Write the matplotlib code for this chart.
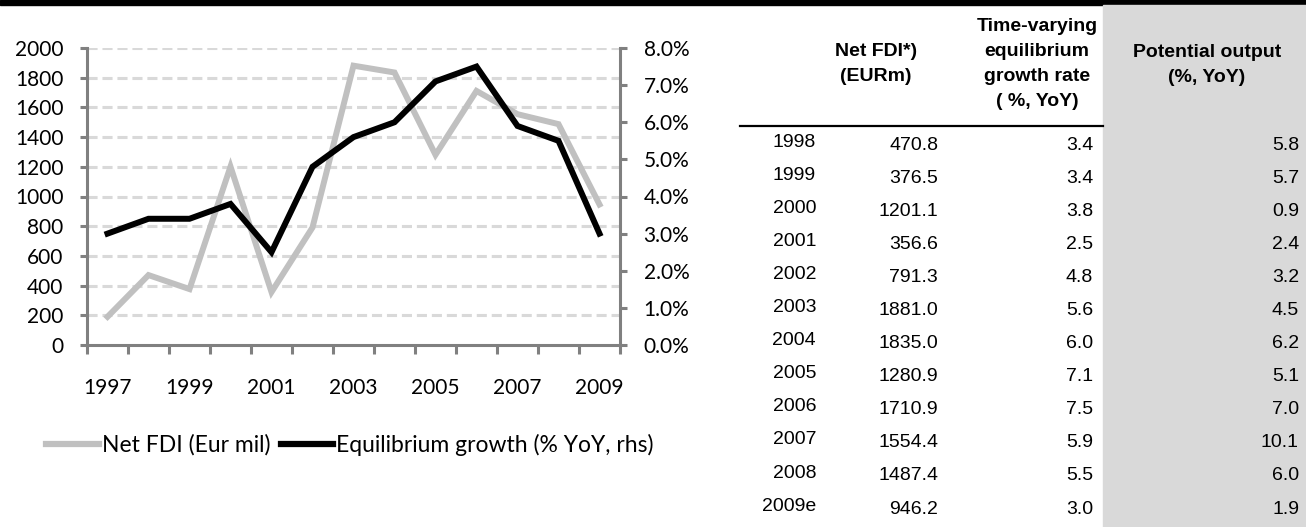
import matplotlib.pyplot as plt
from matplotlib import font_manager
from matplotlib.patches import Rectangle
from matplotlib.lines import Line2D
from matplotlib.ticker import FuncFormatter, MultipleLocator

years = list(range(1997, 2010))
net_fdi = [190, 470.8, 376.5, 1201.1, 356.6, 791.3, 1881.0, 1835.0, 1280.9, 1710.9, 1554.4, 1487.4, 946.2]
eq_growth = [3.0, 3.4, 3.4, 3.8, 2.5, 4.8, 5.6, 6.0, 7.1, 7.5, 5.9, 5.5, 3.0]

table_years = ["1998", "1999", "2000", "2001", "2002", "2003", "2004", "2005", "2006", "2007", "2008", "2009e"]
table_fdi = ["470.8", "376.5", "1201.1", "356.6", "791.3", "1881.0", "1835.0", "1280.9", "1710.9", "1554.4", "1487.4", "946.2"]
table_growth = ["3.4", "3.4", "3.8", "2.5", "4.8", "5.6", "6.0", "7.1", "7.5", "5.9", "5.5", "3.0"]
table_potential = ["5.8", "5.7", "0.9", "2.4", "3.2", "4.5", "6.2", "5.1", "7.0", "10.1", "6.0", "1.9"]

names = set(f.name for f in font_manager.fontManager.ttflist)
narrow = "Liberation Sans Narrow" if "Liberation Sans Narrow" in names else "Liberation Sans"
chart_font = "Lato"

W, H = 1306, 527
fig = plt.figure(figsize=(W / 100, H / 100), dpi=100)

def fx(px):
    return px / W

def fy(py):
    return 1 - py / H

# top black bar
fig.patches.append(Rectangle((0, fy(5)), 1, 5 / H, transform=fig.transFigure, color="black", zorder=0))
# gray shaded column
fig.patches.append(Rectangle((fx(1103), 0), fx(W - 1103), fy(5), transform=fig.transFigure,
                             color="#d9d9d9", zorder=0))
# header rule
fig.lines.append(Line2D([fx(740), fx(1103)], [fy(126), fy(126)], transform=fig.transFigure,
                        color="black", lw=1.6))

grid_c = "#d9d9d9"
axis_c = "#808080"

ax = fig.add_axes([fx(87), fy(345), fx(620 - 87), (345 - 48) / H])
ax2 = ax.twinx()

x = list(range(len(years)))
for v in range(200, 2001, 200):
    ax.axhline(v, color=grid_c, lw=2.2, ls=(0, (3.3, 1.6)), zorder=1)
ax.plot(x, net_fdi, color="#c0c0c0", lw=4.3, solid_joinstyle="miter", zorder=3)
ax2.plot(x, eq_growth, color="black", lw=4.3, solid_joinstyle="miter", zorder=3)

ax.set_xlim(-0.5, len(years) - 0.5)
ax.set_ylim(0, 2000)
ax2.set_ylim(0, 8)
ax.yaxis.set_major_locator(MultipleLocator(200))
ax2.yaxis.set_major_locator(MultipleLocator(1))
ax2.yaxis.set_major_formatter(FuncFormatter(lambda v, p: f"{v:.1f}%"))

ax.set_xticks([i - 0.5 for i in range(len(years) + 1)])
ax.set_xticklabels([])
ax.set_xticks(x[::2], minor=True)
ax.set_xticklabels([str(y) for y in years[::2]], minor=True)
ax.tick_params(axis="x", which="minor", length=0, pad=24, labelsize=15)
ax.tick_params(axis="x", which="major", length=6.5, width=2.2, color=axis_c, direction="out")

for a in (ax, ax2):
    for s in a.spines.values():
        s.set_visible(False)
    a.tick_params(axis="y", length=5, width=2.2, color=axis_c, labelsize=15, pad=12)
    a.set_zorder(2)
ax.spines["left"].set_visible(True)
ax.spines["bottom"].set_visible(True)
ax2.spines["right"].set_visible(True)
for s in (ax.spines["left"], ax.spines["bottom"], ax2.spines["right"]):
    s.set_color(axis_c)
    s.set_linewidth(2.2)
ax.patch.set_visible(False)
ax2.patch.set_visible(False)

for lab in ax.get_xticklabels(minor=True) + ax.get_yticklabels() + ax2.get_yticklabels():
    lab.set_fontfamily(chart_font)

handles = [Line2D([], [], color="#c0c0c0", lw=4.5), Line2D([], [], color="black", lw=4.5)]
fig.legend(handles, ["Net FDI (Eur mil)", "Equilibrium growth (% YoY, rhs)"], loc="center",
           bbox_to_anchor=(fx(350), fy(445)), ncol=2, frameon=False, handlelength=2.3,
           handletextpad=0.12, columnspacing=0.45, prop={"family": chart_font, "size": 16.5})

# table header
hdr = dict(family=narrow, weight="bold", fontsize=14, ha="center", va="center", linespacing=1.6)
fig.text(fx(876), fy(64), "Net FDI*)\n(EURm)", **hdr)
fig.text(fx(1037), fy(64), "Time-varying\nequilibrium\ngrowth rate\n( %, YoY)", **hdr)
fig.text(fx(1207), fy(65), "Potential output\n(%, YoY)", **hdr)

cell = dict(family=narrow, fontsize=14, ha="right", va="center")
for i in range(len(table_years)):
    y = 145 + i * 33.1
    fig.text(fx(816), fy(y - 3), table_years[i], **cell)
    fig.text(fx(938), fy(y), table_fdi[i], **cell)
    fig.text(fx(1093), fy(y), table_growth[i], **cell)
    fig.text(fx(1299), fy(y), table_potential[i], **cell)

fig.savefig("out.png", dpi=100)
